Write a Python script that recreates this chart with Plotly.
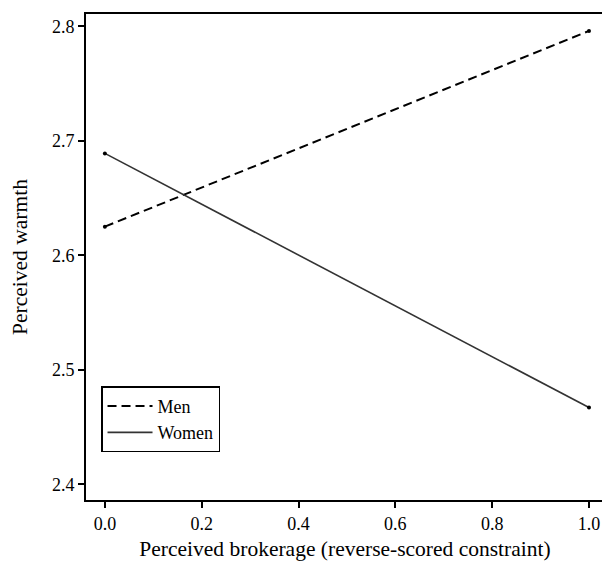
import plotly.graph_objects as go

x_vals = [0.0, 1.0]
men = [2.625, 2.796]
women = [2.689, 2.467]
x_ticks = [0.0, 0.2, 0.4, 0.6, 0.8, 1.0]
x_ticklabels = ["0.0", "0.2", "0.4", "0.6", "0.8", "1.0"]
y_ticks = [2.4, 2.5, 2.6, 2.7, 2.8]
y_ticklabels = ["2.4", "2.5", "2.6", "2.7", "2.8"]

FONT = "Liberation Serif, Times New Roman, serif"

series = [
    ("Men", men, dict(color="black", width=2, dash="9px,5px")),
    ("Women", women, dict(color="#333333", width=1.6)),
]

fig = go.Figure()
for name, vals, line in series:
    fig.add_trace(go.Scatter(x=x_vals, y=vals, name=name, mode="lines", line=line))
for name, vals, line in series:
    fig.add_trace(go.Scatter(x=x_vals, y=vals, name=name, mode="markers",
                             marker=dict(color="black", size=4), showlegend=False,
                             hoverinfo="skip"))

axis_common = dict(showline=True, linecolor="black", linewidth=2, mirror=True,
                   ticks="outside", ticklen=6, tickwidth=1.5, tickcolor="black",
                   showgrid=False, zeroline=False,
                   tickfont=dict(family=FONT, size=18, color="black"))

fig.update_xaxes(range=[-0.039, 1.031], tickvals=x_ticks, ticktext=x_ticklabels,
                 title=dict(text="Perceived brokerage (reverse-scored constraint)",
                            font=dict(family=FONT, size=21.5, color="black"), standoff=8),
                 **axis_common)
fig.update_yaxes(range=[2.3862, 2.8108], tickvals=y_ticks, ticktext=y_ticklabels,
                 title=dict(text="Perceived warmth",
                            font=dict(family=FONT, size=21.5, color="black"), standoff=19),
                 **axis_common)

# The page body has an 8px default margin; size the figure so the frame
# lands where it does in the reference.
fig.update_layout(
    width=602, height=553,
    margin=dict(l=78, r=5, t=4, b=58),
    plot_bgcolor="white", paper_bgcolor="white",
    font=dict(family=FONT, size=18, color="black"),
    legend=dict(x=0.029, y=0.234, xanchor="left", yanchor="top",
                bordercolor="black", borderwidth=1.5, bgcolor="white",
                font=dict(family=FONT, size=18, color="black"),
                itemwidth=45, tracegroupgap=0),
)

fig.write_html("out.html")
